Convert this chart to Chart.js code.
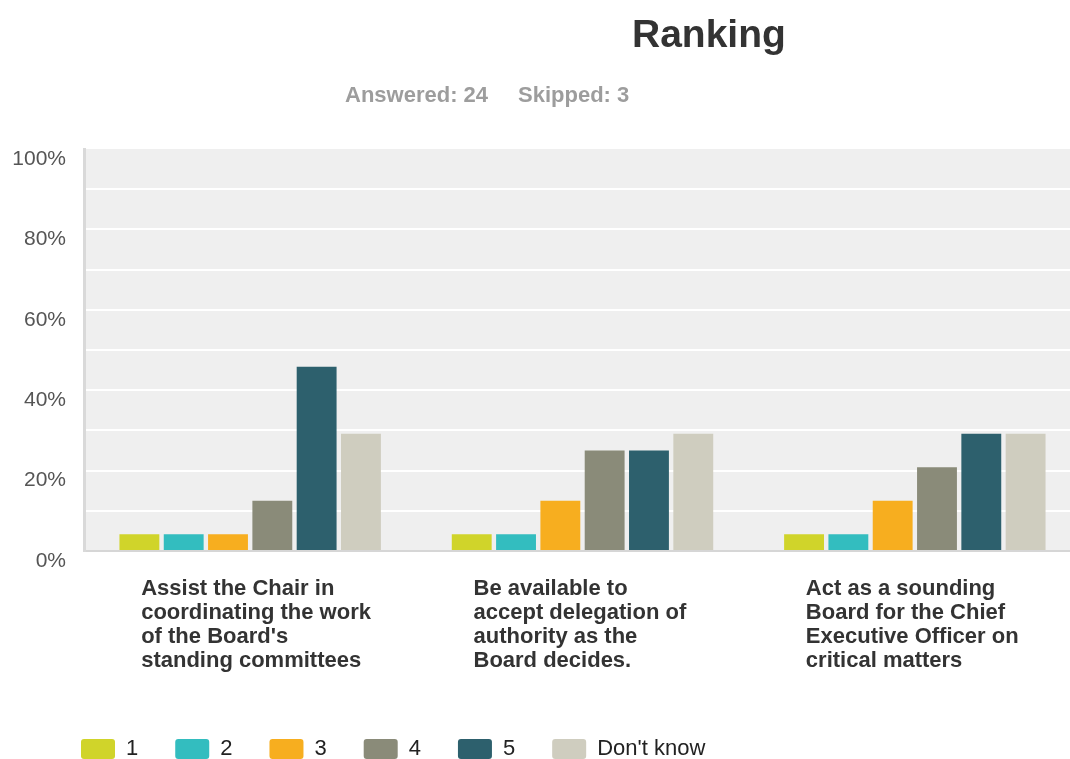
<!DOCTYPE html>
<html>
<head>
<meta charset="utf-8">
<script src="https://cdn.jsdelivr.net/npm/chart.js@4/dist/chart.umd.min.js"></script>
<style>
  body { margin: 0; background: #fff; overflow: hidden; }
  #wrap { position: relative; width: 1085px; height: 770px; }
  .ttl { position: absolute; font-family: "Liberation Sans", Arial, sans-serif; font-weight: bold; white-space: nowrap; }
  #title { left: 632px; top: 14px; font-size: 39px; line-height: 39px; color: #333; }
  #sub1 { left: 345px; top: 84px; font-size: 22px; line-height: 22px; color: #9d9d9d; }
  #sub2 { left: 518px; top: 84px; font-size: 22px; line-height: 22px; color: #9d9d9d; }
</style>
</head>
<body>
<div id="wrap">
  <canvas id="ranking" width="1085" height="770"></canvas>
  <div id="title" class="ttl">Ranking</div>
  <div id="sub1" class="ttl">Answered: 24</div>
  <div id="sub2" class="ttl">Skipped: 3</div>
</div>
<script>
// categories (multi-line labels as shown under each group)
const categories = [
  ['Assist the Chair in', 'coordinating the work', "of the Board's", 'standing committees'],
  ['Be available to', 'accept delegation of', 'authority as the', 'Board decides.'],
  ['Act as a sounding', 'Board for the Chief', 'Executive Officer on', 'critical matters']
];

// % of 24 respondents per rank
const rank1 = [4.17, 4.17, 4.17];
const rank2 = [4.17, 4.17, 4.17];
const rank3 = [4.17, 12.5, 12.5];
const rank4 = [12.5, 25, 20.83];
const rank5 = [45.83, 25, 29.17];
const dontKnow = [29.17, 29.17, 29.17];

const seriesNames = ['1', '2', '3', '4', '5', "Don't know"];
const seriesColors = ['#d0d42a', '#33bdbf', '#f7ae1f', '#8a8b79', '#2d606d', '#cfcdbf'];
const yTicks = [0, 20, 40, 60, 80, 100];

const plotBg = {
  id: 'plotBg',
  beforeDraw(chart) {
    const {ctx, chartArea} = chart;
    ctx.save();
    ctx.fillStyle = '#efefef';
    ctx.fillRect(chartArea.left, chartArea.top, chartArea.right - chartArea.left, chartArea.bottom - chartArea.top);
    ctx.restore();
  }
};

// legend sits further right than the y axis box
const shiftLegend = {
  id: 'shiftLegend',
  afterLayout(chart) {
    chart.legend.left += 40;
    chart.legend.right += 40;
  }
};

const font = "'Liberation Sans', Arial, sans-serif";
const allSeries = [rank1, rank2, rank3, rank4, rank5, dontKnow];

const ctx = document.getElementById('ranking').getContext('2d');
const chart = new Chart(ctx, {
  type: 'bar',
  data: {
    labels: categories,
    datasets: allSeries.map((vals, i) => ({
      label: seriesNames[i],
      data: vals,
      backgroundColor: seriesColors[i],
      borderWidth: 0,
      categoryPercentage: 0.80,
      barPercentage: 0.90
    }))
  },
  options: {
    responsive: false,
    animation: false,
    layout: { padding: { top: 149, left: 4, right: 4, bottom: 0 } },
    plugins: {
      legend: {
        position: 'bottom',
        align: 'start',
        labels: {
          boxWidth: 34,
          boxHeight: 20,
          padding: 37,
          useBorderRadius: true,
          borderRadius: 3,
          color: '#222',
          font: { family: font, size: 22 }
        }
      },
      title: { display: false },
      tooltip: { enabled: false }
    },
    scales: {
      x: {
        grid: { display: false, drawTicks: false },
        border: { color: '#d6d6d6', width: 2 },
        ticks: {
          align: 'start',
          padding: 26,
          color: '#333',
          font: { family: font, size: 22, weight: 'bold', lineHeight: '24px' },
          labelOffset: -109
        },
        afterFit: s => { s.paddingLeft = 0; s.paddingRight = 0; s.height = 150; }
      },
      y: {
        min: 0,
        max: 100,
        grid: {
          drawTicks: false,
          color: c => (c.tick.value === 0 || c.tick.value === 100 ? 'rgba(0,0,0,0)' : '#ffffff'),
          lineWidth: 2
        },
        border: { color: '#d9d9d9', width: 3 },
        ticks: {
          stepSize: 10,
          padding: 18,
          labelOffset: 10,
          color: '#555',
          font: { family: font, size: 21 },
          callback: v => (yTicks.includes(v) ? v + '%' : '')
        },
        afterFit: s => { s.width = 80; }
      }
    }
  },
  plugins: [plotBg, shiftLegend]
});
</script>
</body>
</html>
